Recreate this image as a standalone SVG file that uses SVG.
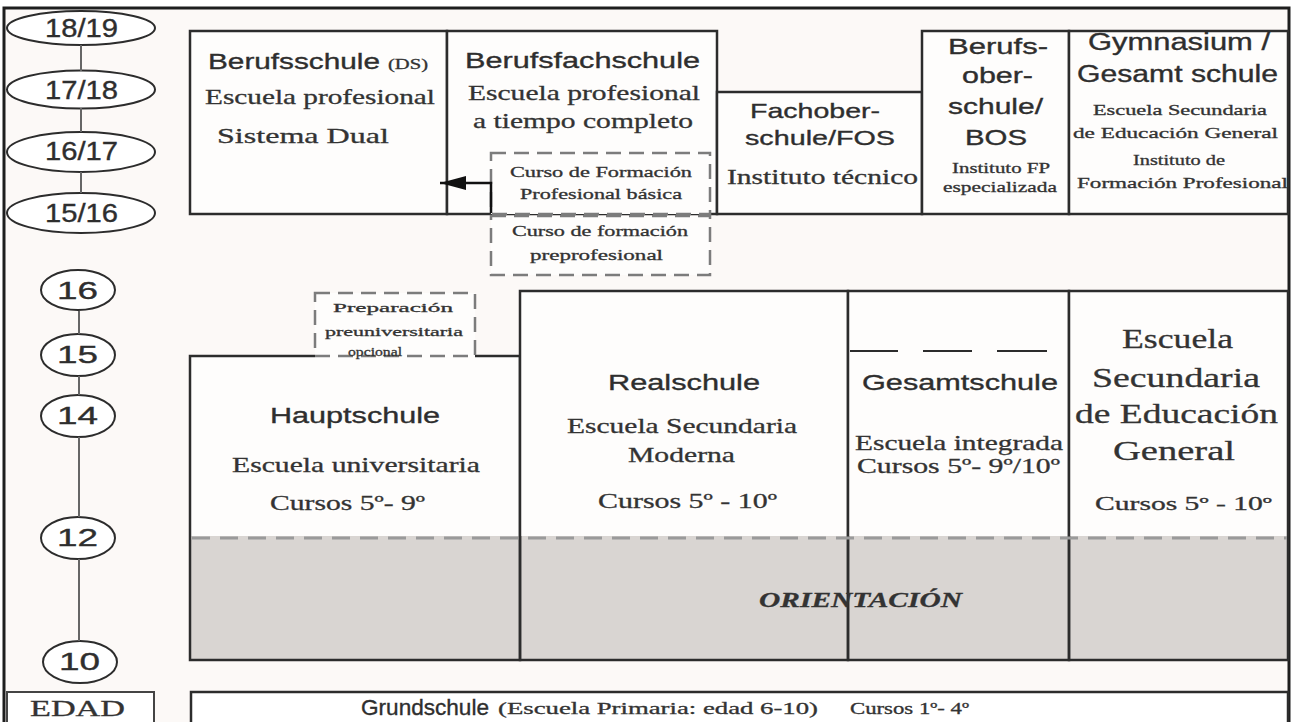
<svg xmlns="http://www.w3.org/2000/svg" width="1293" height="722" viewBox="0 0 1293 722">
<style>
.bg{fill:#fcf9f7}
.box{fill:#fefdfc;stroke:#2c2c2c;stroke-width:2.5}
.line{fill:none;stroke:#2c2c2c;stroke-width:2.5}
.fillw{fill:#fefdfc}
.dash{fill:#fefdfc;stroke:#7c7c7c;stroke-width:2.5;stroke-dasharray:15 8}
.age{fill:#fff;stroke:#2c2c2c;stroke-width:2}
.conn{stroke:#666;stroke-width:2;fill:none}
.sans{font-family:"Liberation Sans",Arial,sans-serif;fill:#2e2e2e;stroke:#2e2e2e;stroke-width:0.35px}
.serif{font-family:"Liberation Serif","Times New Roman",serif;fill:#333;stroke:#333;stroke-width:0.3px}
.s25{font-size:25px}.s24{font-size:24px}.s23{font-size:23px}.s22{font-size:22px}.s21{font-size:21px}.s20{font-size:20px}.s18{font-size:18px}.s16{font-size:16px}.s14{font-size:14px}.s13{font-size:13px}.s27{font-size:27px}
</style>
<defs>
<marker id="arr" viewBox="0 0 10 10" refX="10" refY="5" markerWidth="26" markerHeight="14" markerUnits="userSpaceOnUse" orient="auto" preserveAspectRatio="none">
<path d="M0 0 L10 5 L0 10 Z" fill="#111"/>
</marker>
</defs>
<rect x="0" y="0" width="1293" height="722" fill="#fff"/>
<rect class="bg" x="4" y="8" width="1285" height="720"/>
<path d="M4 730 V8 H1289 V730" fill="none" stroke="#1e1e1e" stroke-width="3"/>

<g id="ages">
<ellipse class="age" cx="81" cy="28" rx="74" ry="17"/>
<text class="sans s25" x="45" y="37" textLength="73" lengthAdjust="spacingAndGlyphs">18/19</text>
<ellipse class="age" cx="81" cy="89.5" rx="74" ry="19"/>
<text class="sans s25" x="45" y="99" textLength="73" lengthAdjust="spacingAndGlyphs">17/18</text>
<ellipse class="age" cx="81" cy="152" rx="74" ry="20"/>
<text class="sans s25" x="45" y="160" textLength="73" lengthAdjust="spacingAndGlyphs">16/17</text>
<ellipse class="age" cx="81" cy="213" rx="74" ry="20"/>
<text class="sans s25" x="45" y="222" textLength="73" lengthAdjust="spacingAndGlyphs">15/16</text>
<ellipse class="age" cx="78" cy="290" rx="37" ry="20"/>
<text class="sans s24" x="57" y="299" textLength="41" lengthAdjust="spacingAndGlyphs">16</text>
<ellipse class="age" cx="78" cy="355" rx="37" ry="21"/>
<text class="sans s24" x="57" y="363" textLength="41" lengthAdjust="spacingAndGlyphs">15</text>
<ellipse class="age" cx="78" cy="416" rx="37" ry="21"/>
<text class="sans s24" x="57" y="424" textLength="41" lengthAdjust="spacingAndGlyphs">14</text>
<ellipse class="age" cx="78" cy="538" rx="37" ry="21"/>
<text class="sans s24" x="57" y="546" textLength="41" lengthAdjust="spacingAndGlyphs">12</text>
<ellipse class="age" cx="80" cy="662" rx="37" ry="21"/>
<text class="sans s24" x="59" y="670" textLength="41" lengthAdjust="spacingAndGlyphs">10</text>
</g>

<g id="edad">
<rect x="7" y="692" width="147" height="40" fill="#fff" stroke="#444" stroke-width="2"/>
<text class="serif s23" x="30" y="716" textLength="95" lengthAdjust="spacingAndGlyphs">EDAD</text>
</g>

<g id="berufsschule">
<rect class="box" x="190" y="31" width="257" height="183"/>
<text class="sans s22" x="208" y="69" textLength="172" lengthAdjust="spacingAndGlyphs">Berufsschule</text>
<text class="serif s14" x="388" y="69" textLength="40" lengthAdjust="spacingAndGlyphs">(DS)</text>
<text class="serif s21" x="205" y="104" textLength="230" lengthAdjust="spacingAndGlyphs">Escuela profesional</text>
<text class="serif s22" x="217" y="143" textLength="172" lengthAdjust="spacingAndGlyphs">Sistema Dual</text>
</g>

<g id="berufsfachschule">
<rect class="box" x="447" y="31" width="270" height="183"/>
<text class="sans s22" x="465" y="68" textLength="235" lengthAdjust="spacingAndGlyphs">Berufsfachschule</text>
<text class="serif s21" x="468" y="100" textLength="232" lengthAdjust="spacingAndGlyphs">Escuela profesional</text>
<text class="serif s21" x="473" y="128" textLength="220" lengthAdjust="spacingAndGlyphs">a tiempo completo</text>
</g>

<g id="curso-fp-basica">
<rect class="dash" x="491" y="153" width="219" height="61"/>
<text class="serif s14" x="510" y="177" textLength="182" lengthAdjust="spacingAndGlyphs">Curso de Formación</text>
<text class="serif s14" x="520" y="199" textLength="162" lengthAdjust="spacingAndGlyphs">Profesional básica</text>
</g>

<g id="curso-preprofesional">
<rect class="dash" x="491" y="216" width="219" height="59"/>
<text class="serif s14" x="512" y="236" textLength="176" lengthAdjust="spacingAndGlyphs">Curso de formación</text>
<text class="serif s14" x="530" y="260" textLength="133" lengthAdjust="spacingAndGlyphs">preprofesional</text>
</g>

<g id="fachoberschule">
<rect class="box" x="717" y="92" width="205" height="122"/>
<text class="sans s21" x="750" y="118" textLength="130" lengthAdjust="spacingAndGlyphs">Fachober-</text>
<text class="sans s21" x="745" y="145" textLength="150" lengthAdjust="spacingAndGlyphs">schule/FOS</text>
<text class="serif s21" x="727" y="184" textLength="191" lengthAdjust="spacingAndGlyphs">Instituto técnico</text>
</g>

<g id="berufsoberschule">
<rect class="box" x="922" y="31" width="147" height="183"/>
<text class="sans s22" x="948" y="54" textLength="100" lengthAdjust="spacingAndGlyphs">Berufs-</text>
<text class="sans s22" x="962" y="83" textLength="71" lengthAdjust="spacingAndGlyphs">ober-</text>
<text class="sans s22" x="948" y="114" textLength="95" lengthAdjust="spacingAndGlyphs">schule/</text>
<text class="sans s22" x="965" y="145" textLength="62" lengthAdjust="spacingAndGlyphs">BOS</text>
<text class="serif s14" x="952" y="173" textLength="98" lengthAdjust="spacingAndGlyphs">Instituto FP</text>
<text class="serif s14" x="943" y="192" textLength="114" lengthAdjust="spacingAndGlyphs">especializada</text>
</g>

<g id="gymnasium">
<rect class="box" x="1069" y="31" width="219" height="183"/>
<text class="sans s23" x="1088" y="50" textLength="182" lengthAdjust="spacingAndGlyphs">Gymnasium /</text>
<text class="sans s23" x="1077" y="82" textLength="201" lengthAdjust="spacingAndGlyphs">Gesamt schule</text>
<text class="serif s14" x="1093" y="115" textLength="174" lengthAdjust="spacingAndGlyphs">Escuela Secundaria</text>
<text class="serif s14" x="1073" y="138" textLength="205" lengthAdjust="spacingAndGlyphs">de Educación General</text>
<text class="serif s14" x="1133" y="165" textLength="92" lengthAdjust="spacingAndGlyphs">Instituto de</text>
<text class="serif s14" x="1077" y="188" textLength="211" lengthAdjust="spacingAndGlyphs">Formación Profesional</text>
</g>

<g id="orientacion">
<rect x="190" y="536" width="1098" height="124" fill="#d9d5d2"/>
</g>

<g id="hauptschule">
<rect class="fillw" x="190" y="356" width="330" height="180"/>
<path class="line" d="M315 356 H190 V660 H520 V356 H475"/>
<text class="sans s22" x="270" y="423" textLength="170" lengthAdjust="spacingAndGlyphs">Hauptschule</text>
<text class="serif s21" x="232" y="472" textLength="248" lengthAdjust="spacingAndGlyphs">Escuela universitaria</text>
<text class="serif s21" x="270" y="510" textLength="155" lengthAdjust="spacingAndGlyphs">Cursos 5º- 9º</text>
</g>

<g id="preparacion">
<rect class="dash" x="315" y="293" width="160" height="63"/>
<text class="serif s13" x="333" y="312" textLength="120" lengthAdjust="spacingAndGlyphs">Preparación</text>
<text class="serif s13" x="325" y="336" textLength="138" lengthAdjust="spacingAndGlyphs">preuniversitaria</text>
<text class="serif s13" x="348" y="356" textLength="54" lengthAdjust="spacingAndGlyphs">opcional</text>
</g>

<g id="realschule">
<rect class="fillw" x="520" y="291" width="328" height="245"/>
<rect x="520" y="291" width="328" height="369" fill="none" stroke="#2c2c2c" stroke-width="2.5"/>
<text class="sans s22" x="608" y="390" textLength="152" lengthAdjust="spacingAndGlyphs">Realschule</text>
<text class="serif s21" x="567" y="433" textLength="230" lengthAdjust="spacingAndGlyphs">Escuela Secundaria</text>
<text class="serif s21" x="628" y="462" textLength="107" lengthAdjust="spacingAndGlyphs">Moderna</text>
<text class="serif s21" x="598" y="508" textLength="179" lengthAdjust="spacingAndGlyphs">Cursos 5º - 10º</text>
</g>

<g id="gesamtschule">
<rect class="fillw" x="848" y="291" width="221" height="245"/>
<rect x="848" y="291" width="221" height="369" fill="none" stroke="#2c2c2c" stroke-width="2.5"/>
<path d="M850 351 H898 M923 351 H972 M997 351 H1047" fill="none" stroke="#2c2c2c" stroke-width="2"/>
<text class="sans s22" x="862" y="390" textLength="196" lengthAdjust="spacingAndGlyphs">Gesamtschule</text>
<text class="serif s21" x="855" y="450" textLength="208" lengthAdjust="spacingAndGlyphs">Escuela integrada</text>
<text class="serif s21" x="857" y="473" textLength="203" lengthAdjust="spacingAndGlyphs">Cursos 5º- 9º/10º</text>
</g>

<g id="escuela-general">
<rect class="fillw" x="1069" y="291" width="219" height="245"/>
<rect x="1069" y="291" width="219" height="369" fill="none" stroke="#2c2c2c" stroke-width="2.5"/>
<text class="serif s27" x="1122" y="348" textLength="111" lengthAdjust="spacingAndGlyphs">Escuela</text>
<text class="serif s27" x="1092" y="387" textLength="168" lengthAdjust="spacingAndGlyphs">Secundaria</text>
<text class="serif s27" x="1075" y="423" textLength="203" lengthAdjust="spacingAndGlyphs">de Educación</text>
<text class="serif s27" x="1113" y="460" textLength="122" lengthAdjust="spacingAndGlyphs">General</text>
<text class="serif s18" x="1095" y="510" textLength="177" lengthAdjust="spacingAndGlyphs">Cursos 5º - 10º</text>
</g>

<g id="orientacion-label">
<path d="M192 538 H1287" fill="none" stroke="#9a9a9a" stroke-width="3" stroke-dasharray="18 10"/>
<text class="serif s22" x="759" y="607" font-weight="bold" font-style="italic" textLength="203" lengthAdjust="spacingAndGlyphs" fill="#222">ORIENTACIÓN</text>
</g>

<g id="grundschule">
<rect x="191" y="692" width="1097" height="40" fill="#fff" stroke="#2c2c2c" stroke-width="2.5"/>
<text class="sans s22" x="361" y="715" textLength="128" lengthAdjust="spacingAndGlyphs">Grundschule</text>
<text class="serif s16" x="498" y="714" textLength="320" lengthAdjust="spacingAndGlyphs">(Escuela Primaria: edad 6-10)</text>
<text class="serif s16" x="850" y="714" textLength="119" lengthAdjust="spacingAndGlyphs">Cursos 1º- 4º</text>
</g>

<g id="connectors">
<path class="conn" d="M81 45 V71 M81 108 V132 M81 172 V193"/>
<path class="conn" d="M79 311 V334 M79 376 V395 M79 437 V517 M79 559 V641"/>
<path d="M491 213 V183 H440" fill="none" stroke="#111" stroke-width="2.5" marker-end="url(#arr)"/>
</g>
</svg>
